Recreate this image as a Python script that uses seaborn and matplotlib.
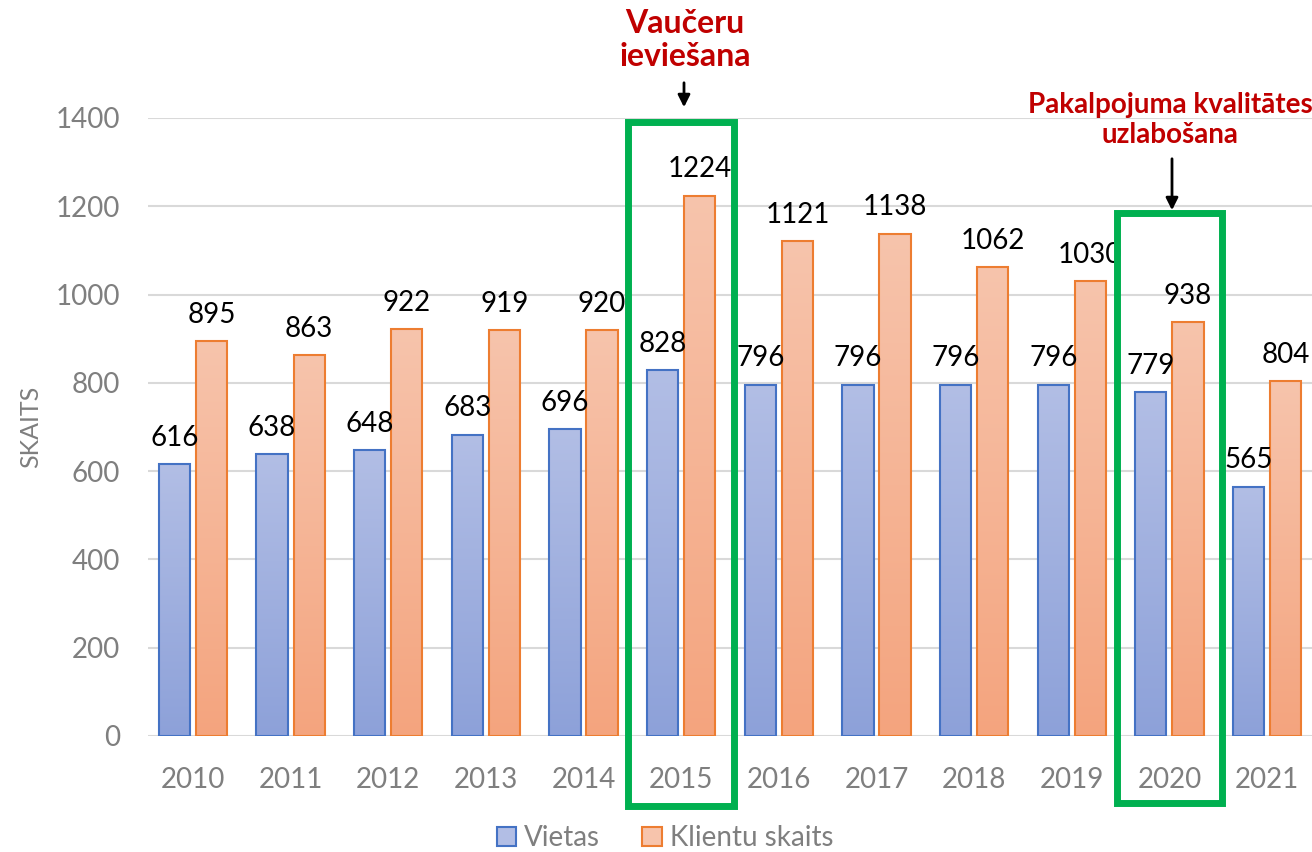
import numpy as np
import pandas as pd
import seaborn as sns
import matplotlib.pyplot as plt
from matplotlib.colors import LinearSegmentedColormap
from matplotlib.patches import Rectangle

years = ['2010', '2011', '2012', '2013', '2014', '2015',
         '2016', '2017', '2018', '2019', '2020', '2021']
vietas = [616, 638, 648, 683, 696, 828, 796, 796, 796, 796, 779, 565]
klienti = [895, 863, 922, 919, 920, 1224, 1121, 1138, 1062, 1030, 938, 804]
series = ['Vietas', 'Klientu skaits']

df = pd.DataFrame({
    'year': years * 2,
    'value': vietas + klienti,
    'series': [series[0]] * len(years) + [series[1]] * len(years),
})

edge = {'Vietas': '#4472C4', 'Klientu skaits': '#ED7D31'}
grad = {'Vietas': ('#8DA1D9', '#B2BEE5'), 'Klientu skaits': ('#F4A47E', '#F7C4AC')}

sns.set_theme(style='white')
plt.rcParams['font.family'] = ['Lato', 'DejaVu Sans']

fig = plt.figure(figsize=(13.12, 8.52), dpi=100)
ax = fig.add_axes([148 / 1312, 1 - 736 / 852, 1 - 148 / 1312, (736 - 118) / 852])

sns.barplot(data=df, x='year', y='value', hue='series', hue_order=series,
            palette=edge, width=0.76, gap=0.16, ax=ax, legend=False)

ax.set_ylim(0, 1400)
ax.set_yticks(range(0, 1401, 200))
ax.yaxis.grid(True, color='#D9D9D9', lw=1.5)
ax.set_axisbelow(True)
sns.despine(ax=ax, left=True, bottom=True)
ax.tick_params(axis='both', length=0, colors='#7F7F7F', labelsize=20)
ax.tick_params(axis='x', pad=22)
ax.tick_params(axis='y', pad=20)
ax.set_xlabel('')
ax.set_ylabel('SKAITS', color='#7F7F7F', fontsize=18, labelpad=10)

# gradient fill + labels for each bar
for cont, name in zip(ax.containers, series):
    cmap = LinearSegmentedColormap.from_list(name, grad[name])
    for bar in cont.patches:
        bar.set_facecolor('none')
        bar.set_edgecolor(edge[name])
        bar.set_linewidth(1.5)
        bx, by = bar.get_x(), bar.get_y()
        bw, bh = bar.get_width(), bar.get_height()
        img = ax.imshow(np.linspace(0, 1, 256).reshape(-1, 1), cmap=cmap,
                        origin='lower', extent=[bx, bx + bw, by, by + bh],
                        aspect='auto', zorder=bar.get_zorder() - 0.1)
        img.set_clip_path(bar)
        ax.text(bx + bw / 2, by + bh + 30, f'{int(bh)}', ha='center', va='bottom',
                fontsize=20, color='black')
ax.set_xlim(-0.46, 11.46)
ax.set_ylim(0, 1400)

# highlight boxes
for x0, y0, y1 in [(4.46, -158, 1391), (9.46, -152, 1185)]:
    ax.add_patch(Rectangle((x0, y0), 1.08, y1 - y0, fill=False, ec='#00B050',
                           lw=5, clip_on=False, zorder=5))

red = '#C00000'
fig.text(685 / 1312, 1 - 40 / 852, 'Vaučeru\nievie\u0161ana', ha='center', va='center',
         color=red, fontsize=23, fontweight='bold', linespacing=1.15)
fig.text(1170 / 1312, 1 - 120 / 852, 'Pakalpojuma kvalitātes\nuzlabošana', ha='center',
         va='center', color=red, fontsize=20, fontweight='bold', linespacing=1.2)
ax.annotate('', xy=(684 / 1312, 1 - 110 / 852), xytext=(684 / 1312, 1 - 80 / 852),
            xycoords='figure fraction',
            arrowprops=dict(arrowstyle='-|>', color='black', lw=2, mutation_scale=18))
ax.annotate('', xy=(1172 / 1312, 1 - 213 / 852), xytext=(1172 / 1312, 1 - 156 / 852),
            xycoords='figure fraction',
            arrowprops=dict(arrowstyle='-|>', color='black', lw=2, mutation_scale=18))

# legend
handles = [Rectangle((0, 0), 1, 1, fc=grad[s][1], ec=edge[s], lw=1.5) for s in series]
fig.legend(handles, series, loc='center', bbox_to_anchor=(665 / 1312, 1 - 838 / 852),
           ncol=2, frameon=False, fontsize=20, labelcolor='#7F7F7F',
           handlelength=0.7, handleheight=0.7, handletextpad=0.3, columnspacing=1.5)

fig.savefig('out.png', dpi=100)
